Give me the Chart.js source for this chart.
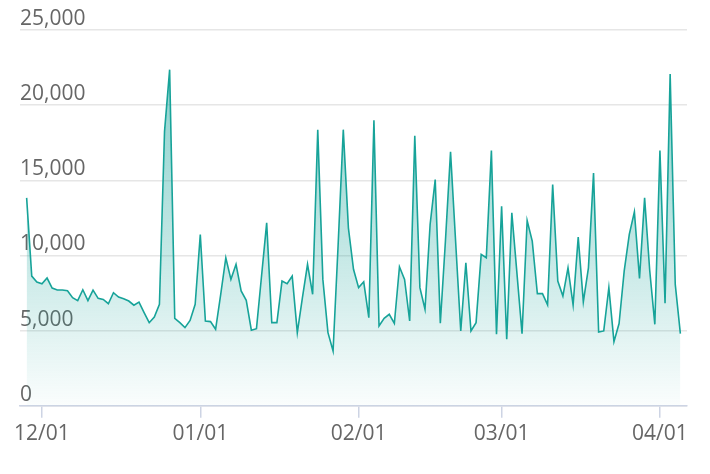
<!DOCTYPE html>
<html><head><meta charset="utf-8">
<script src="https://cdn.jsdelivr.net/npm/chart.js@4"></script>
<style>html,body{margin:0;padding:0;background:#fff}#wrap{width:710px;height:474px}</style>
</head><body><div id="wrap"><canvas id="c"></canvas></div>
<script>
// daily values from 11/28 to 04/05
const values = [13830,8630,8230,8120,8500,7830,7700,7700,7650,7190,7000,7720,7000,7700,7150,7080,6790,7520,7230,7120,6970,6690,6900,6200,5530,5910,6750,18260,22360,5820,5530,5200,5680,6750,11400,5640,5600,5090,7420,9850,8410,9410,7640,7020,5030,5130,8650,12170,5530,5530,8300,8120,8630,4870,7190,9410,7420,18370,8410,4870,3650,10780,18370,11840,9080,7860,8250,5860,18990,5310,5820,6090,5490,9250,8410,5640,17970,7860,6420,12060,15050,5490,10960,16890,10900,4980,9520,4980,5530,10070,9850,16980,4760,13280,4430,12840,8830,4800,12330,10960,7460,7460,6710,14720,8300,7300,9180,6710,11220,6910,9180,15490,4910,4980,7860,4270,5470,8960,11400,12900,8480,13830,9000,5420,16980,6820,22070,8080,4800];
const tickLabels = ['12/01','01/01','02/01','03/01','04/01'];
const tickDays = [3,34,65,93,124];
const yTicks = [0,5000,10000,15000,20000,25000];

const points = values.map((v,i)=>({x:i,y:v}));
const font = {family:'"Open Sans"', size:21};
new Chart(document.getElementById('c'), {
  type:'line',
  data:{datasets:[{data:points,borderColor:'#17a399',borderWidth:1.6,pointRadius:0,tension:0,fill:'origin',
    backgroundColor:(ctx)=>{const a=ctx.chart.chartArea;if(!a)return 'rgba(23,163,153,0.3)';
      const g=ctx.chart.ctx.createLinearGradient(0,a.top,0,a.bottom);
      g.addColorStop(0,'rgba(23,163,153,0.55)');g.addColorStop(0.5,'rgba(23,163,153,0.3)');g.addColorStop(1,'rgba(23,163,153,0.02)');return g;}}]},
  options:{responsive:true,maintainAspectRatio:false,animation:false,
    layout:{padding:{top:30,left:20,right:23,bottom:23}},
    plugins:{legend:{display:false},tooltip:{enabled:false}},
    scales:{
      x:{type:'linear',min:-1.3,max:129.3,
        afterBuildTicks:(s)=>{s.ticks=tickDays.map(v=>({value:v}));},
        ticks:{font,color:'#666',padding:4,maxRotation:0,autoSkip:false,
          callback:(v)=>{const k=tickDays.indexOf(v);return k>=0?tickLabels[k]:'';}},
        grid:{drawOnChartArea:false,drawTicks:true,tickLength:12,color:'#cdd4e4',lineWidth:1.5},
        border:{color:'#cdd4e4',width:1.5}},
      y:{min:0,max:25000,
        afterBuildTicks:(s)=>{s.ticks=yTicks.map(v=>({value:v}));},
        ticks:{font,color:'#666',mirror:true,padding:0,labelOffset:-11,
          callback:(v)=>v.toLocaleString('en-US')},
        grid:{color:'#e6e6e6',lineWidth:1.5,drawTicks:false},
        border:{display:false}}
    }}
});
</script></body></html>
